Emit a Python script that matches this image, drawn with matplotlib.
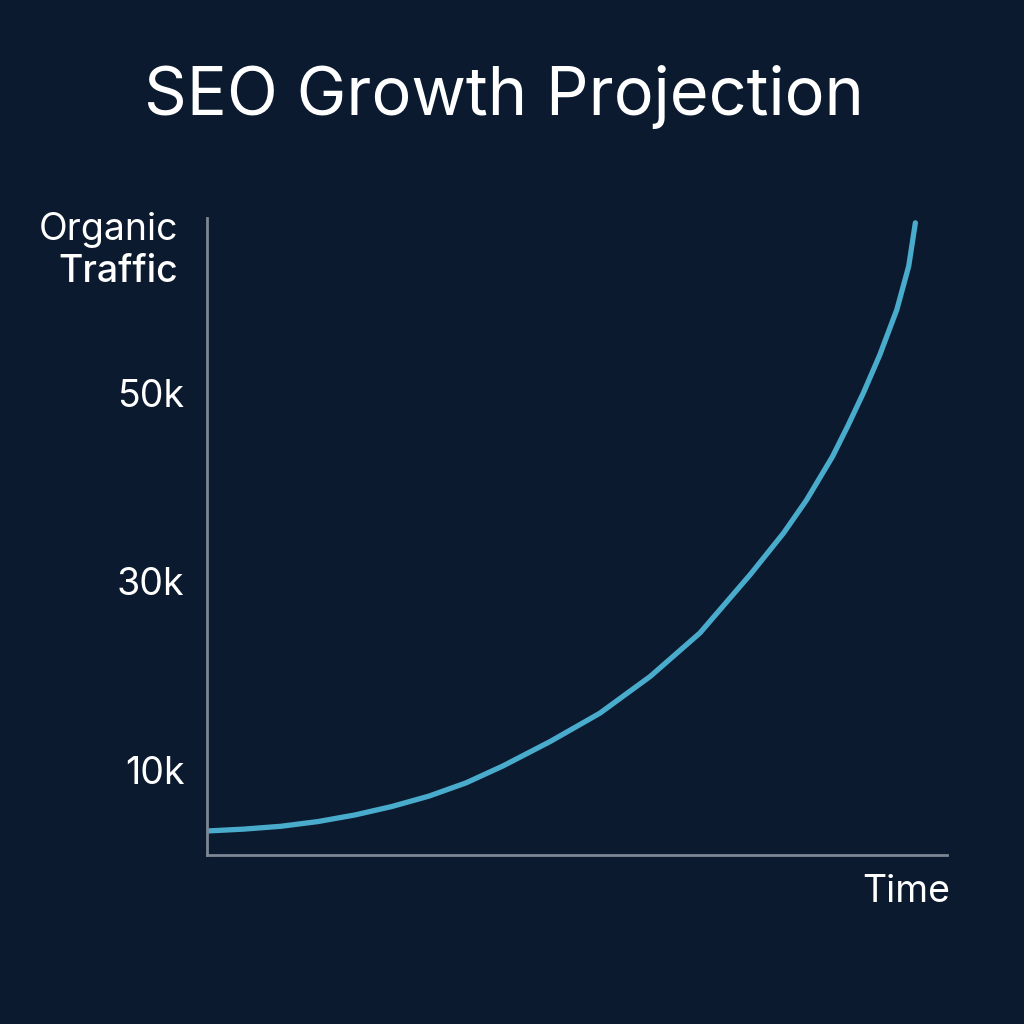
import matplotlib.pyplot as plt

# --- Data (traffic in thousands, time in % of period) ---
time = [0, 5, 10, 15, 20, 25, 30, 35, 40, 46.4, 53.1, 59.9, 66.6, 73.4, 77.9,
        81.0, 84.5, 86.6, 88.7, 90.9, 93.2, 94.8, 95.7]
traffic = [3.5, 3.7, 4.0, 4.5, 5.2, 6.1, 7.2, 8.6, 10.4, 13.0, 16.0, 19.9, 24.5,
           30.7, 35.1, 38.6, 43.2, 46.5, 50.0, 54.0, 58.8, 63.4, 68.0]
tick_vals = [10, 30, 50]
tick_labels = ["10k", "30k", "50k"]

# --- Style ---
bg = "#0b1a2e"
line_color = "#4aaccc"
axis_color = "#7d8694"
plt.rcParams['font.family'] = ['Inter', 'DejaVu Sans']

fig = plt.figure(figsize=(10.24, 10.24), dpi=100, facecolor=bg)
ax = fig.add_axes([0.202, 0.165, 0.723, 0.622])
ax.set_facecolor(bg)

ax.plot(time, traffic, color=line_color, lw=3.8, solid_capstyle="round",
        solid_joinstyle="round")

ax.set_xlim(0, 100)
ax.set_ylim(0.95, 68.5)
ax.set_xticks([])
ax.set_yticks(tick_vals)
ax.set_yticklabels(tick_labels)
ax.tick_params(axis="y", length=0, pad=16, labelsize=27, labelcolor="white")

for side in ["top", "right"]:
    ax.spines[side].set_visible(False)
for side in ["left", "bottom"]:
    ax.spines[side].set_color(axis_color)
    ax.spines[side].set_linewidth(2)

# --- Text ---
fig.text(0.492, 0.905, "SEO Growth Projection", color="white", fontsize=48,
         ha="center", va="center")
fig.text(0.174, 0.775, "Organic", color="white", fontsize=27, ha="right", va="center")
fig.text(0.174, 0.734, "Traffic", color="white", fontsize=27, ha="right", va="center",
         fontweight="medium")
fig.text(0.928, 0.129, "Time", color="white", fontsize=27, ha="right", va="center")

fig.savefig("out.png", dpi=100, facecolor=bg)
